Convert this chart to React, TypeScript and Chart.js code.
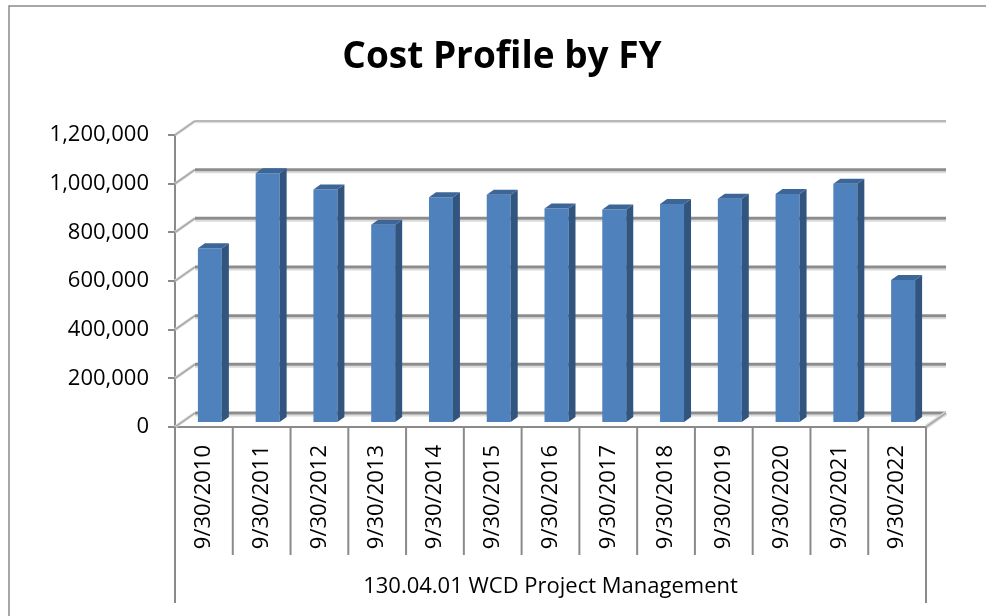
import React, { useEffect, useRef } from "react";
import { Chart, registerables } from "chart.js";

Chart.register(...registerables);

// ---- data ----
const categories: string[] = [
  "9/30/2010", "9/30/2011", "9/30/2012", "9/30/2013", "9/30/2014",
  "9/30/2015", "9/30/2016", "9/30/2017", "9/30/2018", "9/30/2019",
  "9/30/2020", "9/30/2021", "9/30/2022",
];
const costValues: number[] = [
  718000, 1026000, 960000, 815000, 928000,
  938000, 882000, 877000, 900000, 922000,
  941000, 983000, 588000,
];
const yMin = 0;
const yMax = 1200000;
const yStep = 200000;
const groupLabel = "130.04.01 WCD Project Management";
const chartTitle = "Cost Profile by FY";

// ---- layout / style ----
const W = 986;
const H = 616;
const WALL_DX = 20;
const WALL_DY = -14;
const BAR_DX = 6;
const BAR_DY = -4;
const DEPTH_DX = 7;
const DEPTH_DY = -5;
const FONT = "'Open Sans', 'DejaVu Sans', sans-serif";
const FRONT = "#4F81BD";
const SIDE = "#31557F";
const TOP = "#3C6598";
const AXIS = "#8a8a8a";

function line(ctx: CanvasRenderingContext2D, x1: number, y1: number, x2: number, y2: number, color: string, w: number) {
  ctx.strokeStyle = color;
  ctx.lineWidth = w;
  ctx.beginPath();
  ctx.moveTo(x1, y1);
  ctx.lineTo(x2, y2);
  ctx.stroke();
}

const excel3d = {
  id: "excel3d",
  beforeDraw(chart: any) {
    const ctx: CanvasRenderingContext2D = chart.ctx;
    ctx.save();
    ctx.fillStyle = "#ffffff";
    ctx.fillRect(0, 0, W, H);
    ctx.strokeStyle = AXIS;
    ctx.lineWidth = 1.5;
    ctx.beginPath();
    ctx.moveTo(9, H);
    ctx.lineTo(9, 6);
    ctx.lineTo(W, 6);
    ctx.stroke();
    // title
    ctx.fillStyle = "#000";
    ctx.font = `bold 37px ${FONT}`;
    ctx.textAlign = "center";
    ctx.textBaseline = "alphabetic";
    ctx.fillText(chartTitle, 502, 68);
    ctx.restore();
  },
  beforeDatasetsDraw(chart: any) {
    const ctx: CanvasRenderingContext2D = chart.ctx;
    const a = chart.chartArea;
    const ys = chart.scales.y;
    ctx.save();
    const n = ys.ticks.length;
    ys.ticks.forEach((t: any, i: number) => {
      const py = ys.getPixelForValue(t.value);
      const isTop = i === n - 1;
      // side wall diagonal
      line(ctx, a.left, py, a.left + WALL_DX, py + WALL_DY, "#d6d6d6", 3);
      line(ctx, a.left, py, a.left + WALL_DX, py + WALL_DY, "#a8a8a8", 1.5);
      // back wall gridline
      if (!isTop) {
        line(ctx, a.left + WALL_DX, py + WALL_DY + 2.5, a.right + WALL_DX, py + WALL_DY + 2.5, "#dadada", 2);
        line(ctx, a.left + WALL_DX, py + WALL_DY, a.right + WALL_DX, py + WALL_DY, "#8c8c8c", 3);
      } else {
        line(ctx, a.left + WALL_DX, py + WALL_DY + 1.5, a.right + WALL_DX, py + WALL_DY + 1.5, "#e0e0e0", 1.5);
        line(ctx, a.left + WALL_DX, py + WALL_DY, a.right + WALL_DX, py + WALL_DY, "#a0a0a0", 1.5);
      }
    });
    // floor right edge
    const y0 = ys.getPixelForValue(0);
    line(ctx, a.right, y0, a.right + WALL_DX, y0 + WALL_DY, "#d6d6d6", 4);
    line(ctx, a.right, y0, a.right + WALL_DX, y0 + WALL_DY, "#a0a0a0", 1.5);
    ctx.restore();
    ctx.save();
    ctx.translate(BAR_DX, BAR_DY);
  },
  afterDatasetsDraw(chart: any) {
    const ctx: CanvasRenderingContext2D = chart.ctx;
    const meta = chart.getDatasetMeta(0);
    meta.data.forEach((bar: any) => {
      const { x, y, base, width } = bar.getProps(["x", "y", "base", "width"], true);
      const l = x - width / 2;
      const r = x + width / 2;
      ctx.fillStyle = SIDE;
      ctx.beginPath();
      ctx.moveTo(r, y);
      ctx.lineTo(r + DEPTH_DX, y + DEPTH_DY);
      ctx.lineTo(r + DEPTH_DX, base + DEPTH_DY);
      ctx.lineTo(r, base);
      ctx.closePath();
      ctx.fill();
      ctx.fillStyle = TOP;
      ctx.beginPath();
      ctx.moveTo(l, y);
      ctx.lineTo(l + DEPTH_DX, y + DEPTH_DY);
      ctx.lineTo(r + DEPTH_DX, y + DEPTH_DY);
      ctx.lineTo(r, y);
      ctx.closePath();
      ctx.fill();
    });
    ctx.restore();
  },
  afterDraw(chart: any) {
    const ctx: CanvasRenderingContext2D = chart.ctx;
    const a = chart.chartArea;
    const xs = chart.scales.x;
    ctx.save();
    const n = categories.length;
    const step = xs.getPixelForValue(1) - xs.getPixelForValue(0);
    for (let i = 0; i <= n; i++) {
      const px = xs.getPixelForValue(0) - step / 2 + i * step;
      const outer = i === 0 || i === n;
      line(ctx, px, a.bottom, px, outer ? 603 : 555, AXIS, 2);
    }
    ctx.fillStyle = "#000";
    ctx.font = `22px ${FONT}`;
    ctx.textAlign = "center";
    ctx.textBaseline = "alphabetic";
    ctx.fillText(groupLabel, (a.left + a.right) / 2, 593);
    ctx.restore();
  },
};

export default function App() {
  const ref = useRef<HTMLCanvasElement | null>(null);
  useEffect(() => {
    if (!ref.current) return;
    const chart = new Chart(ref.current, {
      type: "bar",
      data: {
        labels: categories,
        datasets: [
          {
            data: costValues,
            backgroundColor: FRONT,
            borderWidth: 0,
            categoryPercentage: 1,
            barPercentage: 0.415,
            clip: false as any,
          },
        ],
      },
      options: {
        animation: false,
        responsive: false,
        devicePixelRatio: 1,
        layout: { padding: { top: 135, right: W - 926, bottom: 0, left: 0 } },
        plugins: {
          legend: { display: false },
          tooltip: { enabled: false },
          title: { display: false },
        },
        scales: {
          x: {
            afterFit: (s: any) => {
              s.height = H - 427;
            },
            grid: { display: false, drawTicks: false },
            border: { display: true, color: AXIS, width: 2 },
            ticks: {
              autoSkip: false,
              minRotation: 90,
              maxRotation: 90,
              padding: 18,
              color: "#000",
              font: { family: FONT, size: 22 },
            },
          },
          y: {
            min: yMin,
            max: yMax,
            afterFit: (s: any) => {
              s.width = 175;
            },
            grid: {
              display: true,
              drawOnChartArea: false,
              drawTicks: true,
              tickLength: 7,
              color: AXIS,
              lineWidth: 2,
            },
            border: { display: true, color: AXIS, width: 2 },
            ticks: {
              stepSize: yStep,
              padding: 19,
              color: "#000",
              font: { family: FONT, size: 22 },
              callback: (v: any) => Number(v).toLocaleString("en-US"),
            },
          },
        },
      },
      plugins: [excel3d],
    });
    return () => chart.destroy();
  }, []);
  return (
    <div style={{ position: "absolute", left: 0, top: 0, width: W, height: H }}>
      <canvas ref={ref} width={W} height={H} style={{ display: "block" }} />
    </div>
  );
}
